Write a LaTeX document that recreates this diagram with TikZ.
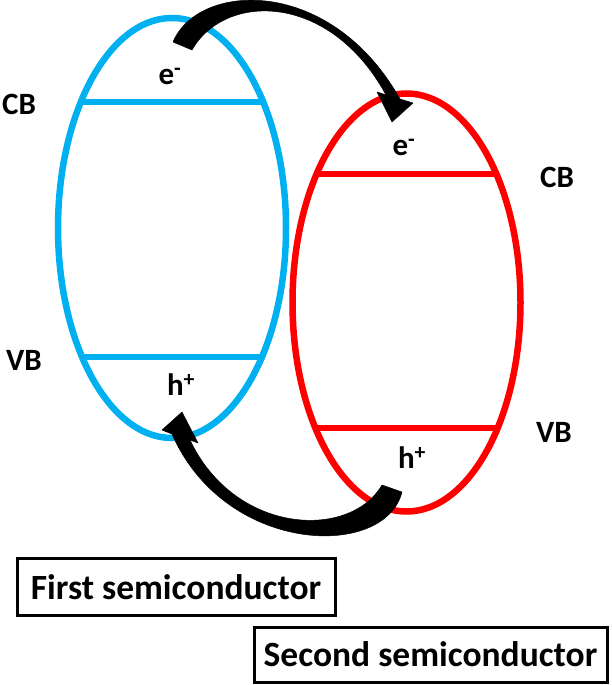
\documentclass[tikz,border=0pt]{standalone}
\usepackage{fontspec}
\setmainfont{Carlito}
\begin{document}
\begin{tikzpicture}[x=1pt,y=-1pt,
  lbl/.style={font=\fontsize{31}{33}\selectfont\bfseries, inner sep=0pt},
  boxlbl/.style={draw, line width=3pt, font=\fontsize{35.5}{38}\selectfont\bfseries, inner sep=0pt, anchor=center},
  bluec/.style={draw=skyc, line width=6.5pt},
  redc/.style={draw=redc, line width=6.5pt},
  arrowfill/.style={fill=black, draw=black, line width=0.5pt, line join=round}]
\definecolor{skyc}{RGB}{0,176,240}
\definecolor{redc}{RGB}{255,0,0}
\useasboundingbox (0,0) rectangle (612,685);
% red semiconductor
\begin{scope}
  \clip (406.5,302.5) ellipse [x radius=114, y radius=209];
  \draw[redc] (250,174) -- (560,174);
  \draw[redc] (250,428) -- (560,428);
\end{scope}
\draw[redc] (406.5,302.5) ellipse [x radius=114, y radius=209];
% blue semiconductor
\begin{scope}
  \clip (172,228) ellipse [x radius=114, y radius=210];
  \draw[bluec] (40,102) -- (300,102);
  \draw[bluec] (40,357) -- (300,357);
\end{scope}
\draw[bluec] (172,228) ellipse [x radius=114, y radius=210];
% labels
\node[lbl] (cb1) at (19,104) {CB};
\node[lbl] (vb1) at (24,360) {VB};
\node[lbl] (e1) at (170,76) {e\textsuperscript{-}};
\node[lbl] (h1) at (181,385) {h\textsuperscript{+}};
\node[lbl] (e2) at (404,147) {e\textsuperscript{-}};
\node[lbl] (cb2) at (557,177) {CB};
\node[lbl] (vb2) at (554,432) {VB};
\node[lbl] (h2) at (412,458) {h\textsuperscript{+}};
% top arrow (electron transfer)
\fill[arrowfill] (173,42) .. controls (198,-18) and (330,-25) .. (400,99)
  -- (413,103) -- (392,122) -- (377,92) -- (386,95)
  .. controls (330,-8) and (225,-8) .. (192,50) -- cycle;
% bottom arrow (hole transfer)
\fill[arrowfill] (402,492) .. controls (385,560) and (225,555) .. (172,434)
  -- (162,430) -- (182,412) -- (198,443) -- (190,440)
  .. controls (235,535) and (350,540) .. (382,485) -- cycle;
% boxes
\node[boxlbl, minimum width=318pt, minimum height=57pt] (first) at (176,587) {First semiconductor};
\node[boxlbl, minimum width=353pt, minimum height=55pt] (second) at (430.5,654.5) {Second semiconductor};
\end{tikzpicture}
\end{document}
